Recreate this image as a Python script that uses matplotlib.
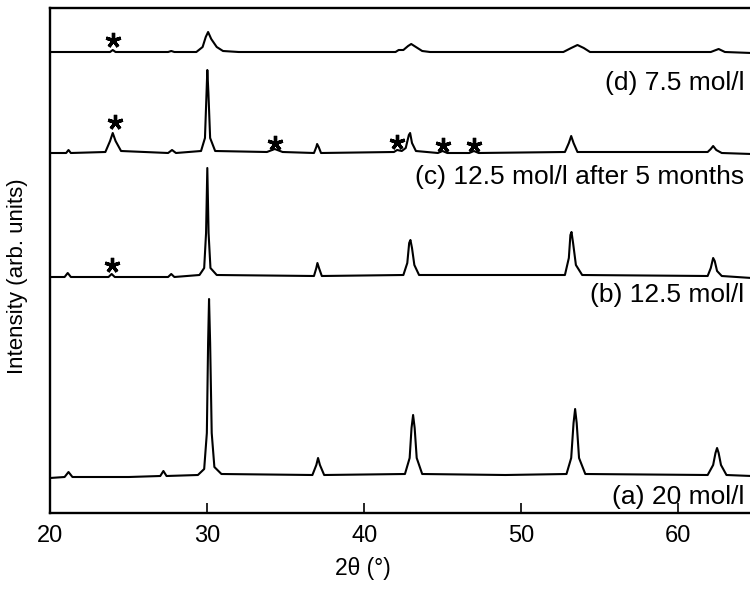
import numpy as np
import matplotlib
matplotlib.use('Agg')
import matplotlib.pyplot as plt

plt.rcParams['font.family'] = ['Liberation Sans', 'DejaVu Sans']

# XRD patterns (2theta in degrees, intensity in arb. units)
a_x = [19.97, 20.9, 21.15, 21.4, 25.0, 27.0, 27.2, 27.4, 29.4, 29.8, 29.97, 30.05, 30.11, 30.18, 30.28, 30.45,
       30.9, 36.7, 36.95, 37.06, 37.18, 37.45, 42.6, 42.9, 43.02, 43.12, 43.22, 43.35, 43.7, 49.0, 52.9, 53.2,
       53.35, 53.45, 53.55, 53.7, 54.1, 61.9, 62.25, 62.4, 62.5, 62.6, 62.75, 63.1, 64.7]
a_y = [35, 36, 41, 36, 36, 37, 42, 37, 38, 44, 80, 170, 214, 170, 80, 46,
       39, 38, 48, 55, 48, 38, 39, 55, 85, 98, 85, 55, 39, 38, 39, 55,
       90, 104, 90, 55, 39, 38, 48, 60, 65, 60, 48, 38, 37]

b_x = [19.97, 20.9, 21.1, 21.3, 23.7, 23.9, 24.1, 27.5, 27.7, 27.9, 29.5, 29.8, 29.92, 30.0, 30.08, 30.2,
       30.6, 36.8, 36.95, 37.02, 37.12, 37.3, 42.5, 42.75, 42.87, 42.95, 43.05, 43.2, 43.5, 52.8, 53.05, 53.15,
       53.22, 53.32, 53.5, 53.9, 61.9, 62.1, 62.25, 62.35, 62.5, 62.8, 64.7]
b_y = [236, 236, 240, 236, 236, 239, 236, 236, 239, 236, 238, 245, 280, 345, 280, 245,
       238, 237, 245, 250, 245, 237, 238, 250, 270, 273, 265, 248, 238, 238, 255, 278,
       281, 270, 248, 238, 237, 245, 255, 252, 242, 237, 235]

c_x = [19.97, 21.0, 21.15, 21.3, 23.5, 23.8, 23.97, 24.15, 24.5, 27.5, 27.75, 28.0, 29.6, 29.85, 29.95, 30.0,
       30.07, 30.18, 30.5, 33.8, 34.3, 34.8, 36.8, 36.95, 37.0, 37.1, 37.25, 41.9, 42.1, 42.4, 42.65, 42.85,
       42.93, 43.05, 43.3, 44.7, 45.0, 45.3, 46.7, 47.0, 47.3, 52.8, 53.05, 53.2, 53.35, 53.6, 61.9, 62.1,
       62.25, 62.45, 62.8, 64.7]
c_y = [360, 360, 363, 360, 361, 372, 380, 372, 362, 360, 363, 360, 362, 375, 420, 443,
       420, 375, 362, 361, 364, 361, 360, 366, 369, 366, 360, 361, 363, 362, 365, 378,
       380, 370, 362, 360, 362, 360, 360, 362, 360, 361, 370, 377, 370, 361, 361, 364,
       367, 363, 360, 359]

d_x = [19.97, 23.8, 23.97, 24.15, 27.5, 27.7, 27.9, 29.3, 29.7, 29.9, 30.05, 30.25, 30.6, 31.0, 32.0,
       42.0, 42.2, 42.5, 42.8, 43.0, 43.3, 43.7, 44.2, 52.7, 53.2, 53.6, 54.0, 54.4, 62.1, 62.6, 63.0, 64.7]
d_y = [461, 461, 463, 461, 461, 462, 461, 461, 466, 476, 481, 474, 466, 462, 461,
       461, 463, 463, 467, 469, 466, 462, 461, 461, 465, 468, 465, 461, 461, 464, 461, 460]

# impurity peaks marked with stars
star_x = [23.97, 24.1, 34.3, 42.1, 45.0, 47.0, 23.9]
star_y = [473, 391, 370, 371, 368, 368, 248]

labels = ['(a) 20 mol/l', '(b) 12.5 mol/l', '(c) 12.5 mol/l after 5 months', '(d) 7.5 mol/l']
label_y = [16, 218, 336, 430]

fig = plt.figure(figsize=(7.5, 5.9), dpi=100)
ax = fig.add_axes([50/750, 77/590, 700/750, 505/590])

for xs, ys in [(a_x, a_y), (b_x, b_y), (c_x, c_y), (d_x, d_y)]:
    ax.plot(xs, ys, color='black', linewidth=1.5)

ax.plot(star_x, star_y, linestyle='none', marker=(5, 2, 0), markersize=11,
        markeredgewidth=2.4, color='black')

for txt, yy in zip(labels, label_y):
    ax.text(64.25, yy, txt, ha='right', va='center', fontsize=19)

ax.set_xlim(19.97, 64.6)
ax.set_ylim(0, 505)
ax.set_xticks([20, 30, 40, 50, 60])
ax.set_yticks([])
ax.tick_params(axis='x', direction='in', length=7, width=1.2, labelsize=17, pad=9)
ax.spines['right'].set_visible(False)
for s in ['left', 'bottom', 'top']:
    ax.spines[s].set_linewidth(1.7)

fig.text(363/750, 1 - 568/590, '2θ (°)', ha='center', va='center', fontsize=16.5)
fig.text(18/750, 1 - 276/590, 'Intensity (arb. units)', ha='center', va='center',
         rotation=90, fontsize=16)

plt.savefig('out.png', dpi=100)
